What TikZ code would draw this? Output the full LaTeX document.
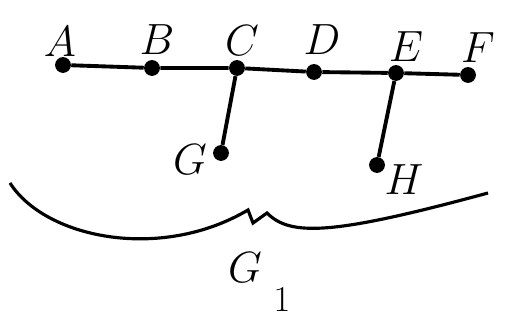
\documentclass[tikz,border=0pt]{standalone}
\begin{document}
\begin{tikzpicture}[x=0.02cm, y=-0.02cm,
  vertex/.style={circle, fill=black, inner sep=0pt, minimum size=9pt},
  vname/.style={font=\fontsize{24}{28}\selectfont},
  edge/.style={line width=2.2pt}]
  \useasboundingbox (0,0) rectangle (507,327);

  % Vertices on the main path and the two pendant ones
  \node[vertex] (a) at (63,65) {};
  \node[vertex] (b) at (152,68) {};
  \node[vertex] (c) at (237,68) {};
  \node[vertex] (d) at (314,72) {};
  \node[vertex] (e) at (396,73) {};
  \node[vertex] (f) at (468,75) {};
  \node[vertex] (g) at (221,153) {};
  \node[vertex] (h) at (377,165) {};

  % Vertex names
  \node[vname] (la) at (60,42) {$A$};
  \node[vname] (lb) at (157,40) {$B$};
  \node[vname] (lc) at (242,41) {$C$};
  \node[vname] (ld) at (322,40) {$D$};
  \node[vname] (le) at (406,47) {$E$};
  \node[vname] (lf) at (478,48) {$F$};
  \node[vname] (lg) at (190,160) {$G$};
  \node[vname] (lh) at (404,180) {$H$};

  % Edges
  \draw[edge] (a) -- (b) -- (c) -- (d) -- (e) -- (f);
  \draw[edge] (c) -- (g);
  \draw[edge] (e) -- (h);

  % Brace under the graph
  \draw[line width=1.8pt] (10,183) .. controls (45,238) and (160,262) .. (248,210)
    -- (253,223) -- (267,213) .. controls (290,236) and (330,236) .. (488,193);

  % Name of the graph
  \node[font=\fontsize{36}{40}\selectfont] (gname) at (245,268) {$G$};
  \node[font=\fontsize{20}{24}\selectfont] (gsub) at (282,300) {$1$};
\end{tikzpicture}
\end{document}
